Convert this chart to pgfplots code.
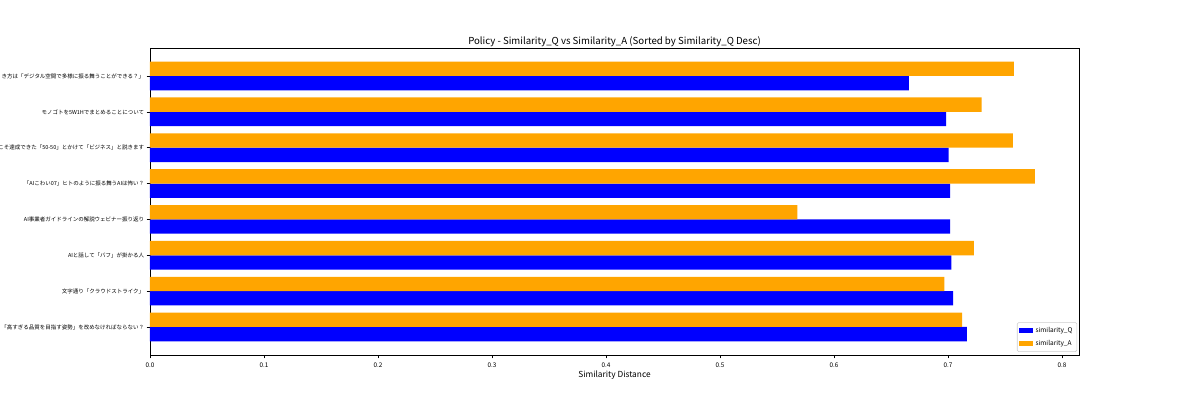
\documentclass[border=0pt]{standalone}
\usepackage{pgfplots}
\pgfplotsset{compat=1.18}
\usepackage{fontspec}
\setmainfont{Noto Sans CJK JP}
\definecolor{qblue}{RGB}{0,0,255}
\definecolor{aorange}{RGB}{255,165,0}
\begin{document}
\begin{tikzpicture}
\clip (-108pt,-32.4pt) rectangle (756pt,255.56pt);
\begin{axis}[
  at={(0,0)}, anchor=south west,
  scale only axis, width=668.9pt, height=221pt,
  xmin=0, xmax=0.815, ymin=-0.78, ymax=7.78,
  xbar, bar width=0.4,
  xtick={0,0.1,0.2,0.3,0.4,0.5,0.6,0.7,0.8},
  xticklabels={0.0,0.1,0.2,0.3,0.4,0.5,0.6,0.7,0.8},
  ytick={0,1,2,3,4,5,6,7},
  yticklabels={
    {「高すぎる品質を目指す姿勢」を改めなければならない？},
    {文字通り「クラウドストライク」},
    {AIと話して「バフ」が掛かる人},
    {AI事業者ガイドラインの解説ウェビナー振り返り},
    {「AIこわい07」ヒトのように振る舞うAIは怖い？},
    {こそ達成できた「50-50」とかけて「ビジネス」と説きます},
    {モノゴトを5W1Hでまとめることについて},
    {き方は「デジタル空間で多様に振る舞うことができる？」}},
  tick align=outside, xtick pos=lower, ytick pos=left,
  major tick length=2.5pt,
  tick style={black, line width=0.4pt},
  axis line style={black, line width=0.5pt},
  yticklabel style={font=\fontsize{3.95}{5}\selectfont, text=black, xshift=1.8pt},
  xticklabel style={font=\fontsize{4.6}{5}\selectfont, text=black, yshift=0.5pt},
  xlabel={Similarity Distance},
  xlabel style={font=\fontsize{6}{7}\selectfont, yshift=4.5pt},
  title={Policy - Similarity\_Q vs Similarity\_A (Sorted by Similarity\_Q Desc)},
  title style={font=\fontsize{6.95}{8}\selectfont, at={(0.5,1)}, anchor=south, yshift=-8.5pt},
  legend style={at={(0.998,0.01)}, anchor=south east, font=\fontsize{4.7}{5}\selectfont,
    draw=black!20, rounded corners=1pt, inner sep=1.2pt, row sep=0pt},
  legend cell align=left,
  legend image code/.code={\fill[#1, sharp corners] (0pt,-2pt) rectangle (10pt,2pt);},
]
\addplot[fill=qblue, draw=none, bar shift=-0.2] coordinates {
  (0.7167,0) (0.7046,1) (0.7029,2) (0.7018,3) (0.7018,4) (0.7006,5) (0.6985,6) (0.6658,7)};
\addlegendentry{similarity\_Q}
\addplot[fill=aorange, draw=none, bar shift=0.2] coordinates {
  (0.7125,0) (0.6968,1) (0.7228,2) (0.5680,3) (0.7763,4) (0.7570,5) (0.7296,6) (0.7579,7)};
\addlegendentry{similarity\_A}
\end{axis}
\end{tikzpicture}
\end{document}
